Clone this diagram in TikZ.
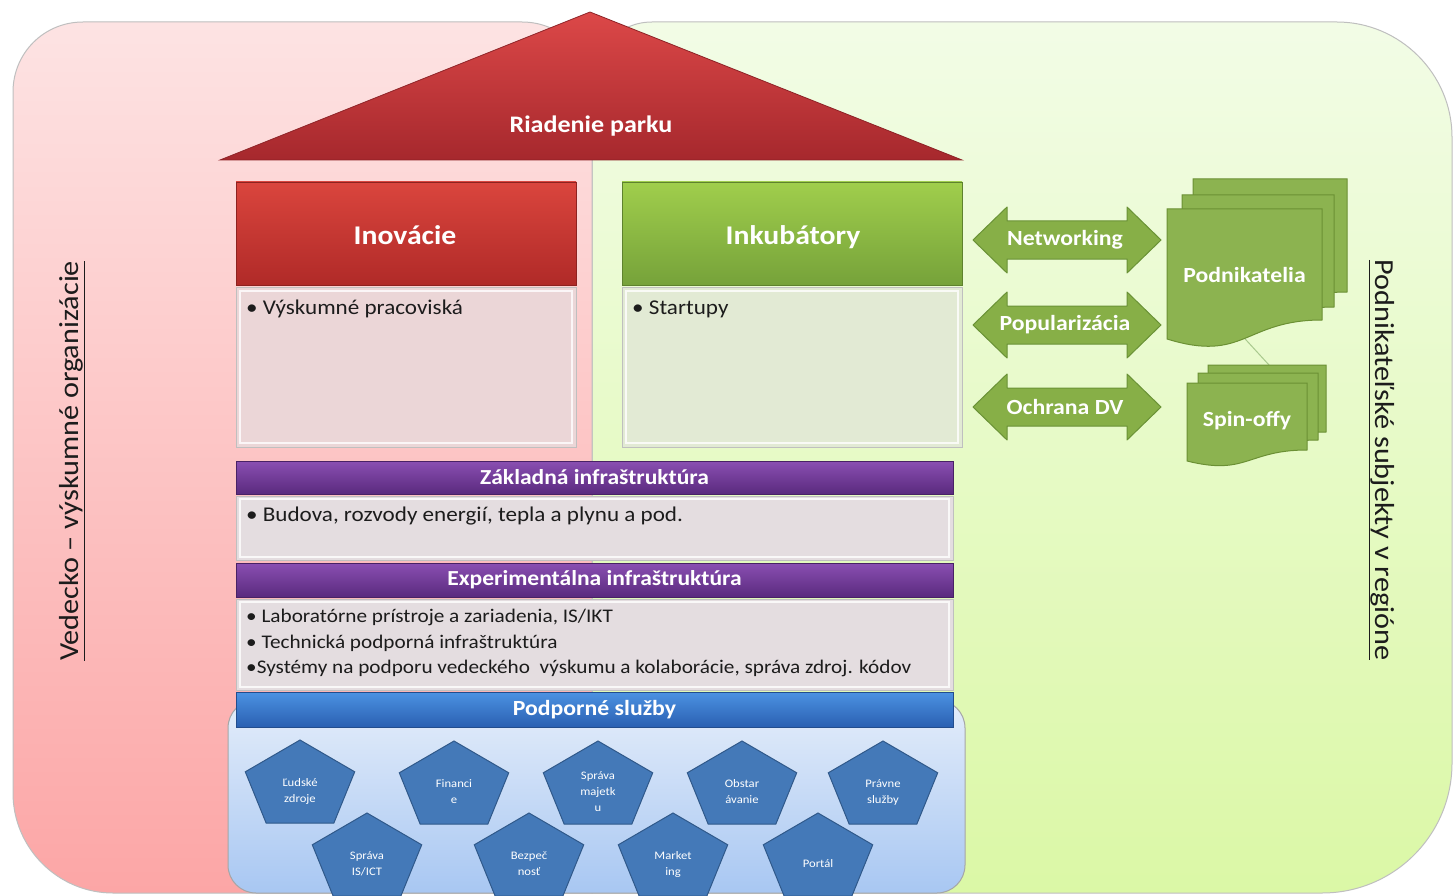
\documentclass[tikz,border=0pt]{standalone}
\usepackage{fontspec}
\setmainfont{Carlito}[FakeStretch=1.1]
\definecolor{pkT}{HTML}{FDE3E3}
\definecolor{pkB}{HTML}{FCA6A6}
\definecolor{grT}{HTML}{F2FCE6}
\definecolor{grB}{HTML}{DBF8A6}
\definecolor{roofT}{HTML}{DC4848}
\definecolor{roofB}{HTML}{A6282D}
\definecolor{redT}{HTML}{DA453D}
\definecolor{redB}{HTML}{B02A28}
\definecolor{grnT}{HTML}{A0CE4C}
\definecolor{grnB}{HTML}{76A23A}
\definecolor{purT}{HTML}{8A4FB2}
\definecolor{purB}{HTML}{5A2A7E}
\definecolor{bluT}{HTML}{4C92E2}
\definecolor{bluB}{HTML}{2A60B2}
\definecolor{contT}{HTML}{E4EDFA}
\definecolor{contB}{HTML}{A8C7F2}
\definecolor{pentF}{HTML}{4479B8}
\definecolor{pentD}{HTML}{30598A}
\definecolor{arrF}{HTML}{87AF47}
\definecolor{arrD}{HTML}{6A9236}
\definecolor{docF}{HTML}{8CB350}
\definecolor{docD}{HTML}{6B9034}
\definecolor{bodyR}{HTML}{EBD6D7}
\definecolor{bodyG}{HTML}{E2EAD4}
\definecolor{bodyP}{HTML}{E4DDE0}
\definecolor{txt}{HTML}{1C1C1C}
\definecolor{linkC}{HTML}{A9C98E}
\begin{document}
\begin{tikzpicture}[x=1pt,y=-1pt,
  box/.style={rectangle, inner sep=0pt, outer sep=0pt},
  hdrR/.style={box, draw=redB!80!black, line width=0.8pt, top color=redT, bottom color=redB, text=white, font=\bfseries\fontsize{27}{30}\selectfont},
  hdrG/.style={box, draw=grnB!80!black, line width=0.8pt, top color=grnT, bottom color=grnB, text=white, font=\bfseries\fontsize{27}{30}\selectfont},
  bar/.style={box, draw=purB!80!black, line width=0.8pt, top color=purT, bottom color=purB, text=white, font=\bfseries\fontsize{21.4}{24}\selectfont},
  bbar/.style={box, draw=bluB!80!black, line width=0.8pt, top color=bluT, bottom color=bluB, text=white, font=\bfseries\fontsize{21.6}{24}\selectfont},
  bodybox/.style={box, draw=black!25, line width=0.8pt, fill=#1},
  glow/.style={draw=white, line width=2.5pt, opacity=0.8},
  btxt/.style={anchor=west, inner sep=0pt, text=txt, font=\fontsize{21}{25}\selectfont},
  etxt/.style={anchor=west, inner sep=0pt, text=txt, font=\fontsize{19.3}{23}\selectfont},
  pent/.style={draw=pentD, line width=1pt, fill=pentF},
  penttext/.style={text=white, align=center, inner sep=0pt, font=\fontsize{11.5}{16}\selectfont},
  arr/.style={draw=arrD, line width=1pt, fill=arrF, line join=round},
  arrtxt/.style={text=white, inner sep=0pt, font=\bfseries\fontsize{21.6}{24}\selectfont},
  doc/.style={draw=docD, line width=1pt, fill=docF},
  doctxt/.style={text=white, inner sep=0pt, font=\bfseries\fontsize{21.6}{24}\selectfont},
  side/.style={text=txt, inner sep=0pt, font=\fontsize{27.5}{32}\selectfont}
]
\useasboundingbox (0,0) rectangle (1456,896);
\fill[white] (0,0) rectangle (1456,896);

% background regions
\path[draw=black!25, line width=1pt, top color=grT, bottom color=grB]
  (592,82) .. controls (592,49) and (619,22) .. (652,22) -- (1337,22)
  .. controls (1400,22) and (1452,74) .. (1452,137) -- (1452,763)
  .. controls (1452,835) and (1394,893) .. (1322,893) -- (592,893) -- cycle;
\path[draw=black!25, line width=1pt, top color=pkT, bottom color=pkB]
  (13,92) .. controls (13,53) and (44,22) .. (83,22) -- (522,22)
  .. controls (561,22) and (592,53) .. (592,92) -- (592,893) -- (113,893)
  .. controls (58,893) and (13,848) .. (13,793) -- cycle;

% roof
\path[draw=roofB!85!black, line width=0.8pt, top color=roofT, bottom color=roofB]
  (590,12) -- (962,160) -- (220,160) -- cycle;
\node[text=white, font=\bfseries\fontsize{23.7}{26}\selectfont] (roof) at (591,126) {Riadenie parku};

% support services container
\path[draw=black!35, line width=1pt, top color=contT, bottom color=contB, rounded corners=28]
  (228,700) rectangle (965,893);

% Inovacie
\node[hdrR, minimum width=340, minimum height=103] (inov) at (406,233.5) {};
\node[text=white, font=\bfseries\fontsize{27}{30}\selectfont, inner sep=0pt] (inovh) at (405,235) {Inovácie};
\node[bodybox=bodyR, minimum width=340, minimum height=160] (inovb) at (406,367) {};
\draw[glow] (240,291) rectangle (572,443);
\node[btxt] (inovt) at (246,309) {• Výskumné pracoviská};

% Inkubatory
\node[hdrG, minimum width=340, minimum height=103] (ink) at (792,233.5) {};
\node[text=white, font=\bfseries\fontsize{27}{30}\selectfont, inner sep=0pt] (inkh) at (793,237) {Inkubátory};
\node[bodybox=bodyG, minimum width=340, minimum height=160] (inkb) at (792,367) {};
\draw[glow] (626,291) rectangle (958,443);
\node[btxt] (inkt) at (632,309) {• Startupy};

% Zakladna
\node[bar, minimum width=717, minimum height=33] (zak) at (594.5,477.5) {Základná infraštruktúra};
\node[bodybox=bodyP, minimum width=717, minimum height=64] (zakb) at (594.5,528) {};
\draw[glow] (240,499) rectangle (949,557);
\node[btxt] (zakt) at (246,516) {• Budova, rozvody energií, tepla a plynu a pod.};

% Experimentalna
\node[bar, minimum width=717, minimum height=34] (exp) at (594.5,580) {Experimentálna infraštruktúra};
\node[bodybox=bodyP, minimum width=717, minimum height=91] (expb) at (594.5,644.5) {};
\draw[glow] (240,602) rectangle (949,687);
\node[etxt] (expt1) at (246,617) {• Laboratórne prístroje a zariadenia, IS/IKT};
\node[etxt] (expt2) at (246,643) {• Technická podporná infraštruktúra};
\node[etxt] (expt3) at (246,668) {•Systémy na podporu vedeckého\ \ výskumu a kolaborácie, správa zdroj. kódov};

% Podporne
\node[bbar, minimum width=717, minimum height=35] (pod) at (594.5,709.5) {Podporné služby};

% pentagons
\newcommand{\pentagon}[4]{%
  \draw[pent, shift={(#2,#3)}] (0,-46) -- (54.7,-14.2) -- (33.8,37.2) -- (-33.8,37.2) -- (-54.7,-14.2) -- cycle;
  \node[penttext] (#1) at (#2,#3+5) {#4};}
\pentagon{p1}{300}{786}{Ľudské\\zdroje}
\pentagon{p2}{454}{787}{Financi\\e}
\pentagon{p3}{598}{787}{Správa\\majetk\\u}
\pentagon{p4}{742}{787}{Obstar\\ávanie}
\pentagon{p5}{883}{787}{Právne\\služby}
\pentagon{p6}{367}{859}{Správa\\IS/ICT}
\pentagon{p7}{529}{859}{Bezpeč\\nosť}
\pentagon{p8}{673}{859}{Market\\ing}
\pentagon{p9}{818}{859}{Portál}

% double arrows
\path[arr] (973,240) -- (1007,207) -- (1007,221) -- (1127,221) -- (1127,207) -- (1161,240)
  -- (1127,273) -- (1127,259) -- (1007,259) -- (1007,273) -- cycle;
\node[arrtxt] (net) at (1065,240) {Networking};
\path[arr, shift={(0,85)}] (973,240) -- (1007,207) -- (1007,221) -- (1127,221) -- (1127,207) -- (1161,240)
  -- (1127,273) -- (1127,259) -- (1007,259) -- (1007,273) -- cycle;
\node[arrtxt] (popu) at (1065,325) {Popularizácia};
\path[arr, shift={(0,167)}] (973,240) -- (1007,207) -- (1007,221) -- (1127,221) -- (1127,207) -- (1161,240)
  -- (1127,273) -- (1127,259) -- (1007,259) -- (1007,273) -- cycle;
\node[arrtxt] (ochr) at (1065,407) {Ochrana DV};

% connector between document stacks
\coordinate (c1) at (1236,329);
\coordinate (c2) at (1280,377);
\draw[color=linkC, line width=1pt] (c1) -- (c2);

% Podnikatelia documents
\path[doc] (1193,179) -- (1347,179) -- (1347,292) .. controls (1270,292) and (1270,335) .. (1193,311) -- cycle;
\path[doc] (1182,195) -- (1334,195) -- (1334,307) .. controls (1258,307) and (1258,350) .. (1182,326) -- cycle;
\path[doc] (1167,209) -- (1322,209) -- (1322,320) .. controls (1244.5,320) and (1244.5,363) .. (1167,339) -- cycle;
\node[doctxt] (podn) at (1244.5,275) {Podnikatelia};

% Spin-offy documents
\path[doc] (1208,365) -- (1326,365) -- (1326,432) .. controls (1267,432) and (1267,458) .. (1208,443) -- cycle;
\path[doc] (1198,373) -- (1318,373) -- (1318,440) .. controls (1258,440) and (1258,466) .. (1198,451) -- cycle;
\path[doc] (1187,383) -- (1307,383) -- (1307,450) .. controls (1247,450) and (1247,476) .. (1187,461) -- cycle;
\node[doctxt] (spin) at (1247,421) {Spin-offy};

% side labels
\node[side, rotate=90] (left) at (72,461) {\underline{Vedecko – výskumné organizácie}};
\node[side, rotate=-90] (right) at (1382,460) {\underline{Podnikateľské subjekty v regióne}};
\end{tikzpicture}
\end{document}
